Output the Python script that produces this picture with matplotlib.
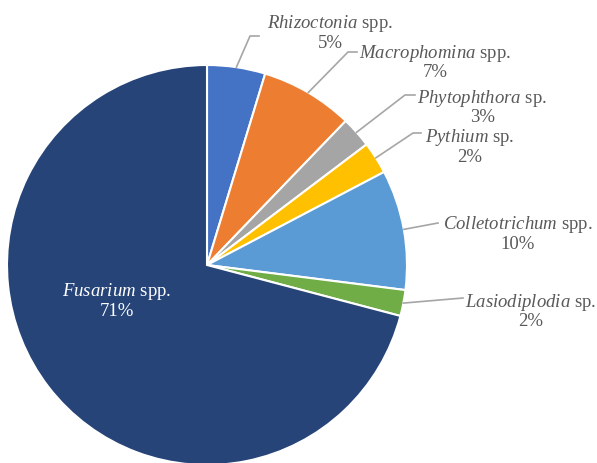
import numpy as np
import matplotlib.pyplot as plt

plt.rcParams['font.family'] = ['Liberation Serif', 'DejaVu Serif']
plt.rcParams['mathtext.fontset'] = 'custom'
plt.rcParams['mathtext.rm'] = 'Liberation Serif'
plt.rcParams['mathtext.it'] = 'Liberation Serif:italic'

genera = ['Rhizoctonia', 'Macrophomina', 'Phytophthora', 'Pythium',
          'Colletotrichum', 'Lasiodiplodia', 'Fusarium']
suffix = ['spp.', 'spp.', 'sp.', 'sp.', 'spp.', 'sp.', 'spp.']
shares = [4.7, 7.5, 2.5, 2.6, 9.7, 2.1, 70.9]
pct_labels = ['5%', '7%', '3%', '2%', '10%', '2%', '71%']
colors = ['#4472C4', '#ED7D31', '#A5A5A5', '#FFC000', '#5B9BD5', '#70AD47', '#264478']

# label layout (data units, pie radius = 1)
text_pos = [(0.615, 1.162), (1.14, 1.015), (1.377, 0.79), (1.315, 0.592),
            (1.555, 0.157), (1.62, -0.23), (-0.45, -0.178)]
elbows = [(0.215, 1.145), (0.705, 1.065), (0.99, 0.85), (1.03, 0.66),
          (1.155, 0.21), (1.28, -0.165), None]
tails = [0.045, 0.045, 0.05, 0.04, 0, 0, 0]

fig = plt.figure(figsize=(5.97, 4.63), dpi=100)
ax = fig.add_axes([0, 0, 1, 1])
ax.pie(shares, colors=colors, startangle=90, counterclock=False,
       wedgeprops=dict(edgecolor='white', linewidth=1.5))
ax.set_xlim(-1.035, 1.95)
ax.set_ylim(-0.99, 1.325)
ax.set_aspect('equal')
ax.axis('off')

cum = np.cumsum(shares) - np.array(shares) / 2
mid = np.deg2rad(90 - 360 * cum / sum(shares))

for i, g in enumerate(genera):
    label = r'$\it{' + g + '}$ ' + suffix[i] + '\n' + pct_labels[i]
    tc = 'white' if elbows[i] is None else '#595959'
    ax.text(text_pos[i][0], text_pos[i][1], label, ha='center', va='center',
            fontsize=13.5, color=tc, linespacing=1.05, multialignment='center')
    if elbows[i] is not None:
        x0, y0 = np.cos(mid[i]), np.sin(mid[i])
        ex, ey = elbows[i]
        ax.plot([x0, ex, ex + tails[i]], [y0, ey, ey], color='#A6A6A6', lw=1.2)

plt.savefig('out.png', dpi=100)
